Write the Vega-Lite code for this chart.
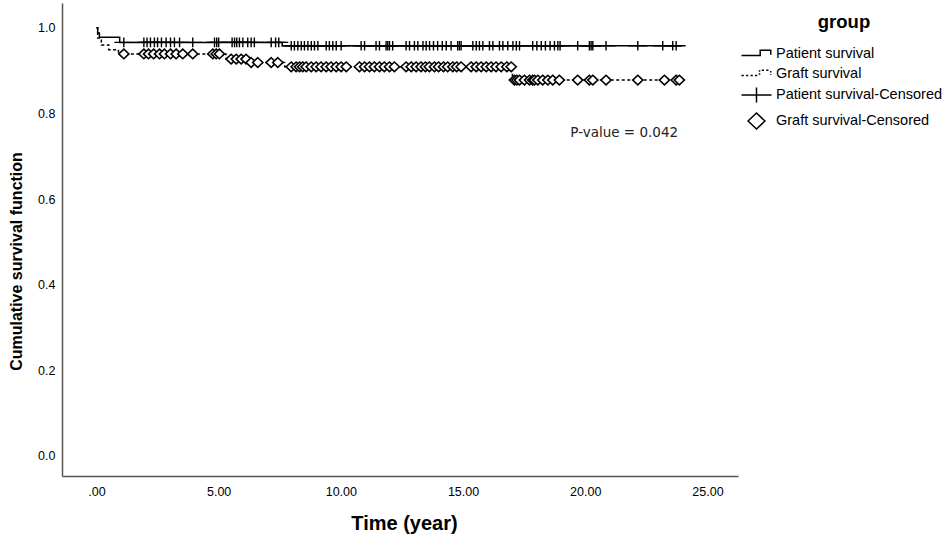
{
  "$schema": "https://vega.github.io/schema/vega-lite/v6.json",
  "width": 676,
  "height": 473,
  "autosize": {"type": "none"},
  "padding": {"left": 62, "top": 3, "right": 210, "bottom": 66},
  "background": "white",
  "config": {"view": {"stroke": null}, "font": "Liberation Sans"},
  "datasets": {
    "curves": [
      {"series": "Patient survival", "t": 0, "s": 1.0},
      {"series": "Patient survival", "t": 0.05, "s": 0.988},
      {"series": "Patient survival", "t": 0.12, "s": 0.978},
      {"series": "Patient survival", "t": 0.95, "s": 0.966},
      {"series": "Patient survival", "t": 7.6, "s": 0.958},
      {"series": "Patient survival", "t": 23.92, "s": 0.958},
      {"series": "Graft survival", "t": 0, "s": 1.0},
      {"series": "Graft survival", "t": 0.05, "s": 0.976},
      {"series": "Graft survival", "t": 0.2, "s": 0.96},
      {"series": "Graft survival", "t": 0.5, "s": 0.949},
      {"series": "Graft survival", "t": 0.9, "s": 0.939},
      {"series": "Graft survival", "t": 5.3, "s": 0.927},
      {"series": "Graft survival", "t": 6.2, "s": 0.919},
      {"series": "Graft survival", "t": 7.7, "s": 0.909},
      {"series": "Graft survival", "t": 17.02, "s": 0.878},
      {"series": "Graft survival", "t": 23.85, "s": 0.878}
    ],
    "censored": [
      {"series": "Patient survival-Censored", "t": 1.12, "s": 0.966},
      {"series": "Patient survival-Censored", "t": 1.94, "s": 0.966},
      {"series": "Patient survival-Censored", "t": 2.07, "s": 0.966},
      {"series": "Patient survival-Censored", "t": 2.21, "s": 0.966},
      {"series": "Patient survival-Censored", "t": 2.37, "s": 0.966},
      {"series": "Patient survival-Censored", "t": 2.5, "s": 0.966},
      {"series": "Patient survival-Censored", "t": 2.66, "s": 0.966},
      {"series": "Patient survival-Censored", "t": 2.85, "s": 0.966},
      {"series": "Patient survival-Censored", "t": 3.03, "s": 0.966},
      {"series": "Patient survival-Censored", "t": 3.19, "s": 0.966},
      {"series": "Patient survival-Censored", "t": 3.4, "s": 0.966},
      {"series": "Patient survival-Censored", "t": 3.94, "s": 0.966},
      {"series": "Patient survival-Censored", "t": 4.83, "s": 0.966},
      {"series": "Patient survival-Censored", "t": 4.92, "s": 0.966},
      {"series": "Patient survival-Censored", "t": 5.0, "s": 0.966},
      {"series": "Patient survival-Censored", "t": 5.55, "s": 0.966},
      {"series": "Patient survival-Censored", "t": 5.65, "s": 0.966},
      {"series": "Patient survival-Censored", "t": 5.74, "s": 0.966},
      {"series": "Patient survival-Censored", "t": 5.85, "s": 0.966},
      {"series": "Patient survival-Censored", "t": 5.99, "s": 0.966},
      {"series": "Patient survival-Censored", "t": 6.19, "s": 0.966},
      {"series": "Patient survival-Censored", "t": 6.33, "s": 0.966},
      {"series": "Patient survival-Censored", "t": 6.46, "s": 0.966},
      {"series": "Patient survival-Censored", "t": 7.15, "s": 0.966},
      {"series": "Patient survival-Censored", "t": 7.33, "s": 0.966},
      {"series": "Patient survival-Censored", "t": 7.46, "s": 0.966},
      {"series": "Patient survival-Censored", "t": 7.97, "s": 0.958},
      {"series": "Patient survival-Censored", "t": 8.1, "s": 0.958},
      {"series": "Patient survival-Censored", "t": 8.24, "s": 0.958},
      {"series": "Patient survival-Censored", "t": 8.38, "s": 0.958},
      {"series": "Patient survival-Censored", "t": 8.51, "s": 0.958},
      {"series": "Patient survival-Censored", "t": 8.65, "s": 0.958},
      {"series": "Patient survival-Censored", "t": 8.79, "s": 0.958},
      {"series": "Patient survival-Censored", "t": 8.92, "s": 0.958},
      {"series": "Patient survival-Censored", "t": 9.06, "s": 0.958},
      {"series": "Patient survival-Censored", "t": 9.4, "s": 0.958},
      {"series": "Patient survival-Censored", "t": 9.53, "s": 0.958},
      {"series": "Patient survival-Censored", "t": 9.67, "s": 0.958},
      {"series": "Patient survival-Censored", "t": 9.81, "s": 0.958},
      {"series": "Patient survival-Censored", "t": 10.01, "s": 0.958},
      {"series": "Patient survival-Censored", "t": 10.83, "s": 0.958},
      {"series": "Patient survival-Censored", "t": 10.97, "s": 0.958},
      {"series": "Patient survival-Censored", "t": 11.44, "s": 0.958},
      {"series": "Patient survival-Censored", "t": 11.58, "s": 0.958},
      {"series": "Patient survival-Censored", "t": 11.85, "s": 0.958},
      {"series": "Patient survival-Censored", "t": 11.92, "s": 0.958},
      {"series": "Patient survival-Censored", "t": 11.99, "s": 0.958},
      {"series": "Patient survival-Censored", "t": 12.12, "s": 0.958},
      {"series": "Patient survival-Censored", "t": 12.67, "s": 0.958},
      {"series": "Patient survival-Censored", "t": 12.81, "s": 0.958},
      {"series": "Patient survival-Censored", "t": 13.01, "s": 0.958},
      {"series": "Patient survival-Censored", "t": 13.15, "s": 0.958},
      {"series": "Patient survival-Censored", "t": 13.36, "s": 0.958},
      {"series": "Patient survival-Censored", "t": 13.49, "s": 0.958},
      {"series": "Patient survival-Censored", "t": 13.63, "s": 0.958},
      {"series": "Patient survival-Censored", "t": 13.79, "s": 0.958},
      {"series": "Patient survival-Censored", "t": 13.96, "s": 0.958},
      {"series": "Patient survival-Censored", "t": 14.15, "s": 0.958},
      {"series": "Patient survival-Censored", "t": 14.31, "s": 0.958},
      {"series": "Patient survival-Censored", "t": 14.51, "s": 0.958},
      {"series": "Patient survival-Censored", "t": 14.78, "s": 0.958},
      {"series": "Patient survival-Censored", "t": 14.85, "s": 0.958},
      {"series": "Patient survival-Censored", "t": 14.92, "s": 0.958},
      {"series": "Patient survival-Censored", "t": 15.4, "s": 0.958},
      {"series": "Patient survival-Censored", "t": 15.54, "s": 0.958},
      {"series": "Patient survival-Censored", "t": 15.67, "s": 0.958},
      {"series": "Patient survival-Censored", "t": 15.81, "s": 0.958},
      {"series": "Patient survival-Censored", "t": 16.08, "s": 0.958},
      {"series": "Patient survival-Censored", "t": 16.22, "s": 0.958},
      {"series": "Patient survival-Censored", "t": 16.49, "s": 0.958},
      {"series": "Patient survival-Censored", "t": 16.63, "s": 0.958},
      {"series": "Patient survival-Censored", "t": 16.83, "s": 0.958},
      {"series": "Patient survival-Censored", "t": 17.04, "s": 0.958},
      {"series": "Patient survival-Censored", "t": 17.18, "s": 0.958},
      {"series": "Patient survival-Censored", "t": 17.31, "s": 0.958},
      {"series": "Patient survival-Censored", "t": 17.85, "s": 0.958},
      {"series": "Patient survival-Censored", "t": 18.02, "s": 0.958},
      {"series": "Patient survival-Censored", "t": 18.2, "s": 0.958},
      {"series": "Patient survival-Censored", "t": 18.37, "s": 0.958},
      {"series": "Patient survival-Censored", "t": 18.56, "s": 0.958},
      {"series": "Patient survival-Censored", "t": 18.74, "s": 0.958},
      {"series": "Patient survival-Censored", "t": 18.88, "s": 0.958},
      {"series": "Patient survival-Censored", "t": 18.97, "s": 0.958},
      {"series": "Patient survival-Censored", "t": 19.69, "s": 0.958},
      {"series": "Patient survival-Censored", "t": 20.17, "s": 0.958},
      {"series": "Patient survival-Censored", "t": 20.24, "s": 0.958},
      {"series": "Patient survival-Censored", "t": 20.31, "s": 0.958},
      {"series": "Patient survival-Censored", "t": 20.85, "s": 0.958},
      {"series": "Patient survival-Censored", "t": 22.15, "s": 0.958},
      {"series": "Patient survival-Censored", "t": 23.17, "s": 0.958},
      {"series": "Patient survival-Censored", "t": 23.58, "s": 0.958},
      {"series": "Patient survival-Censored", "t": 23.72, "s": 0.958},
      {"series": "Graft survival-Censored", "t": 1.12, "s": 0.939},
      {"series": "Graft survival-Censored", "t": 1.94, "s": 0.939},
      {"series": "Graft survival-Censored", "t": 2.13, "s": 0.939},
      {"series": "Graft survival-Censored", "t": 2.34, "s": 0.939},
      {"series": "Graft survival-Censored", "t": 2.58, "s": 0.939},
      {"series": "Graft survival-Censored", "t": 2.78, "s": 0.939},
      {"series": "Graft survival-Censored", "t": 3.03, "s": 0.939},
      {"series": "Graft survival-Censored", "t": 3.26, "s": 0.939},
      {"series": "Graft survival-Censored", "t": 3.53, "s": 0.939},
      {"series": "Graft survival-Censored", "t": 3.94, "s": 0.939},
      {"series": "Graft survival-Censored", "t": 4.76, "s": 0.939},
      {"series": "Graft survival-Censored", "t": 4.9, "s": 0.939},
      {"series": "Graft survival-Censored", "t": 5.03, "s": 0.939},
      {"series": "Graft survival-Censored", "t": 5.51, "s": 0.927},
      {"series": "Graft survival-Censored", "t": 5.72, "s": 0.927},
      {"series": "Graft survival-Censored", "t": 5.92, "s": 0.927},
      {"series": "Graft survival-Censored", "t": 6.12, "s": 0.927},
      {"series": "Graft survival-Censored", "t": 6.33, "s": 0.919},
      {"series": "Graft survival-Censored", "t": 6.6, "s": 0.919},
      {"series": "Graft survival-Censored", "t": 7.15, "s": 0.919},
      {"series": "Graft survival-Censored", "t": 7.42, "s": 0.919},
      {"series": "Graft survival-Censored", "t": 7.97, "s": 0.909},
      {"series": "Graft survival-Censored", "t": 8.17, "s": 0.909},
      {"series": "Graft survival-Censored", "t": 8.31, "s": 0.909},
      {"series": "Graft survival-Censored", "t": 8.44, "s": 0.909},
      {"series": "Graft survival-Censored", "t": 8.58, "s": 0.909},
      {"series": "Graft survival-Censored", "t": 8.79, "s": 0.909},
      {"series": "Graft survival-Censored", "t": 8.99, "s": 0.909},
      {"series": "Graft survival-Censored", "t": 9.19, "s": 0.909},
      {"series": "Graft survival-Censored", "t": 9.4, "s": 0.909},
      {"series": "Graft survival-Censored", "t": 9.6, "s": 0.909},
      {"series": "Graft survival-Censored", "t": 9.81, "s": 0.909},
      {"series": "Graft survival-Censored", "t": 10.01, "s": 0.909},
      {"series": "Graft survival-Censored", "t": 10.22, "s": 0.909},
      {"series": "Graft survival-Censored", "t": 10.76, "s": 0.909},
      {"series": "Graft survival-Censored", "t": 10.97, "s": 0.909},
      {"series": "Graft survival-Censored", "t": 11.17, "s": 0.909},
      {"series": "Graft survival-Censored", "t": 11.37, "s": 0.909},
      {"series": "Graft survival-Censored", "t": 11.58, "s": 0.909},
      {"series": "Graft survival-Censored", "t": 11.78, "s": 0.909},
      {"series": "Graft survival-Censored", "t": 11.99, "s": 0.909},
      {"series": "Graft survival-Censored", "t": 12.19, "s": 0.909},
      {"series": "Graft survival-Censored", "t": 12.67, "s": 0.909},
      {"series": "Graft survival-Censored", "t": 12.88, "s": 0.909},
      {"series": "Graft survival-Censored", "t": 13.08, "s": 0.909},
      {"series": "Graft survival-Censored", "t": 13.28, "s": 0.909},
      {"series": "Graft survival-Censored", "t": 13.46, "s": 0.909},
      {"series": "Graft survival-Censored", "t": 13.62, "s": 0.909},
      {"series": "Graft survival-Censored", "t": 13.83, "s": 0.909},
      {"series": "Graft survival-Censored", "t": 14.0, "s": 0.909},
      {"series": "Graft survival-Censored", "t": 14.2, "s": 0.909},
      {"series": "Graft survival-Censored", "t": 14.37, "s": 0.909},
      {"series": "Graft survival-Censored", "t": 14.58, "s": 0.909},
      {"series": "Graft survival-Censored", "t": 14.74, "s": 0.909},
      {"series": "Graft survival-Censored", "t": 14.92, "s": 0.909},
      {"series": "Graft survival-Censored", "t": 15.33, "s": 0.909},
      {"series": "Graft survival-Censored", "t": 15.54, "s": 0.909},
      {"series": "Graft survival-Censored", "t": 15.74, "s": 0.909},
      {"series": "Graft survival-Censored", "t": 15.95, "s": 0.909},
      {"series": "Graft survival-Censored", "t": 16.15, "s": 0.909},
      {"series": "Graft survival-Censored", "t": 16.35, "s": 0.909},
      {"series": "Graft survival-Censored", "t": 16.56, "s": 0.909},
      {"series": "Graft survival-Censored", "t": 16.79, "s": 0.909},
      {"series": "Graft survival-Censored", "t": 16.97, "s": 0.909},
      {"series": "Graft survival-Censored", "t": 17.1, "s": 0.878},
      {"series": "Graft survival-Censored", "t": 17.2, "s": 0.878},
      {"series": "Graft survival-Censored", "t": 17.31, "s": 0.878},
      {"series": "Graft survival-Censored", "t": 17.51, "s": 0.878},
      {"series": "Graft survival-Censored", "t": 17.72, "s": 0.878},
      {"series": "Graft survival-Censored", "t": 17.85, "s": 0.878},
      {"series": "Graft survival-Censored", "t": 17.92, "s": 0.878},
      {"series": "Graft survival-Censored", "t": 18.06, "s": 0.878},
      {"series": "Graft survival-Censored", "t": 18.26, "s": 0.878},
      {"series": "Graft survival-Censored", "t": 18.47, "s": 0.878},
      {"series": "Graft survival-Censored", "t": 18.67, "s": 0.878},
      {"series": "Graft survival-Censored", "t": 18.94, "s": 0.878},
      {"series": "Graft survival-Censored", "t": 19.69, "s": 0.878},
      {"series": "Graft survival-Censored", "t": 20.17, "s": 0.878},
      {"series": "Graft survival-Censored", "t": 20.31, "s": 0.878},
      {"series": "Graft survival-Censored", "t": 20.85, "s": 0.878},
      {"series": "Graft survival-Censored", "t": 22.15, "s": 0.878},
      {"series": "Graft survival-Censored", "t": 23.24, "s": 0.878},
      {"series": "Graft survival-Censored", "t": 23.72, "s": 0.878},
      {"series": "Graft survival-Censored", "t": 23.85, "s": 0.878}
    ],
    "note": [{"label": "P-value = 0.042"}]
  },
  "layer": [
    {
      "data": {"name": "curves"},
      "mark": {"type": "line", "interpolate": "step-after", "color": "black", "strokeWidth": 1.5},
      "encoding": {
        "x": {
          "field": "t", "type": "quantitative",
          "scale": {"domain": [-1.41, 26.25], "nice": false, "zero": false},
          "axis": {
            "title": "Time (year)",
            "values": [0, 5, 10, 15, 20, 25],
            "labelExpr": "datum.value == 0 ? '.00' : format(datum.value, '.2f')",
            "ticks": false, "grid": false,
            "domainColor": "#555", "domainWidth": 1.5,
            "labelFont": "Liberation Sans", "labelFontSize": 12.5, "labelColor": "black",
            "labelPadding": 9, "labelFlush": false, "labelOverlap": false,
            "titleFont": "Liberation Sans Narrow, Liberation Sans", "titleFontSize": 20, "titleFontWeight": "bold",
            "titleColor": "black", "titleX": 342, "titleY": 47, "titleBaseline": "middle", "titleAlign": "center"
          }
        },
        "y": {
          "field": "s", "type": "quantitative",
          "scale": {"domain": [-0.047, 1.058], "nice": false, "zero": false},
          "axis": {
            "title": "Cumulative survival function",
            "values": [0, 0.2, 0.4, 0.6, 0.8, 1.0],
            "format": ".1f",
            "ticks": false, "grid": false,
            "domainColor": "#555", "domainWidth": 1.5,
            "labelFont": "Liberation Sans", "labelFontSize": 12.5, "labelColor": "black",
            "labelPadding": 7,
            "titleFont": "Liberation Sans", "titleFontSize": 16, "titleFontWeight": "bold",
            "titleColor": "black", "titleX": -46, "titleY": 258, "titleAngle": -90,
            "titleBaseline": "middle", "titleAlign": "center"
          }
        },
        "strokeDash": {
          "field": "series", "type": "nominal",
          "scale": {"domain": ["Patient survival", "Graft survival"], "range": [[1, 0], [3, 2.5]]},
          "legend": null
        }
      }
    },
    {
      "data": {"name": "censored"},
      "transform": [{"filter": "datum.series == 'Graft survival-Censored'"}],
      "mark": {"type": "point", "filled": true, "fill": "white", "stroke": "black", "strokeWidth": 1.6, "size": 130, "opacity": 1},
      "encoding": {
        "x": {"field": "t", "type": "quantitative"},
        "y": {"field": "s", "type": "quantitative"},
        "shape": {
          "field": "series", "type": "nominal",
          "scale": {
            "domain": ["Patient survival", "Graft survival", "Patient survival-Censored", "Graft survival-Censored"],
            "range": [
              "M-1.58,0.16H0.39V-0.39H1.5V0.08",
              "M-1.58,0.16H-1.34M-1.1,0.16H-0.87M-0.63,0.16H-0.39M-0.16,0.16H0.08M0.32,0.08V-0.08M0.32,-0.24V-0.39M0.55,-0.39H0.79M1.03,-0.39H1.26M1.5,-0.32V-0.16M1.5,0V0.08",
              "M-1.58,0H1.58M0,-0.8V0.8",
              "M0,-0.84L0.89,0L0,0.84L-0.89,0Z"
            ]
          },
          "legend": {
            "title": "group", "orient": "none", "legendX": 684, "legendY": 10,
            "titleFont": "Liberation Sans", "titleFontSize": 18.5, "titleFontWeight": "bold", "titleColor": "black",
            "titleAnchor": "middle", "titlePadding": 12,
            "labelFont": "Liberation Sans", "labelFontSize": 14.5, "labelColor": "black", "labelOffset": 9, "labelLimit": 300,
            "symbolSize": 361,
            "rowPadding": 3, "padding": 0
          }
        }
      }
    },
    {
      "data": {"name": "censored"},
      "transform": [{"filter": "datum.series == 'Patient survival-Censored'"}],
      "mark": {"type": "point", "filled": false, "stroke": "black", "strokeWidth": 1.4, "size": 144, "opacity": 1},
      "encoding": {
        "x": {"field": "t", "type": "quantitative"},
        "y": {"field": "s", "type": "quantitative"},
        "shape": {"field": "series", "type": "nominal"}
      }
    },
    {
      "data": {"name": "note"},
      "mark": {"type": "text", "align": "right", "baseline": "middle", "font": "DejaVu Sans", "fontSize": 13.5, "color": "#222"},
      "encoding": {
        "x": {"datum": 23.8, "type": "quantitative"},
        "y": {"datum": 0.755, "type": "quantitative"},
        "text": {"field": "label"}
      }
    }
  ]
}
